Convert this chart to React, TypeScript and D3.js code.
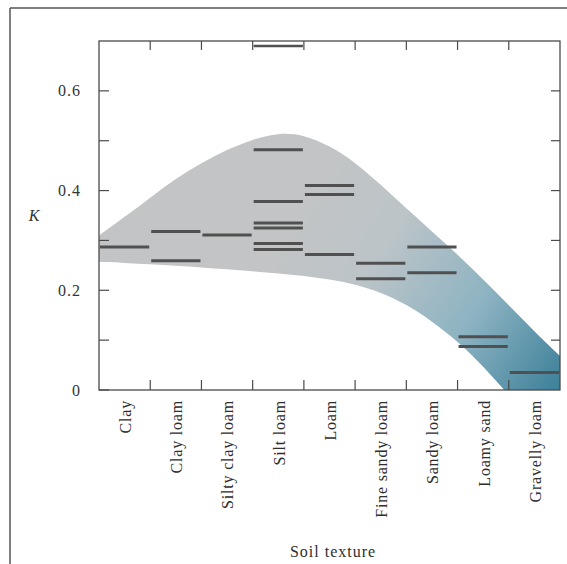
import React from "react";
import { scaleBand, scaleLinear, area, curveBasis, range } from "d3";

const soilTypes = [
  "Clay",
  "Clay loam",
  "Silty clay loam",
  "Silt loam",
  "Loam",
  "Fine sandy loam",
  "Sandy loam",
  "Loamy sand",
  "Gravelly loam",
];

// measured K values, one list per soil texture
const kValues = [
  [0.287],
  [0.318, 0.259],
  [0.311],
  [0.69, 0.482, 0.378, 0.335, 0.325, 0.294, 0.282],
  [0.41, 0.392, 0.272],
  [0.254, 0.223],
  [0.287, 0.235],
  [0.107, 0.087],
  [0.035],
];

// shaded envelope, position in texture units (0 = left edge of Clay)
// lower edge runs on below the axis and is clipped by the plot frame
const envPos = [0, 0.5, 1, 1.5, 2, 2.5, 3, 3.5, 4, 4.5, 5, 5.5, 6, 6.5, 7, 7.5, 8, 8.5, 9];
const envUpper = [0.31, 0.347, 0.386, 0.424, 0.456, 0.482, 0.503, 0.516, 0.512, 0.49, 0.457, 0.412, 0.364, 0.318, 0.272, 0.222, 0.17, 0.117, 0.068];
const envLower = [0.257, 0.255, 0.252, 0.249, 0.246, 0.242, 0.238, 0.234, 0.229, 0.222, 0.212, 0.196, 0.172, 0.138, 0.098, 0.048, -0.01, -0.07, -0.13];

const yTicks = [0, 0.1, 0.2, 0.3, 0.4, 0.5, 0.6];
const yLabels = [0, 0.2, 0.4, 0.6];

const serif = "'Liberation Serif', 'DejaVu Serif', serif";
const ink = "#4a4a4a";

const Chart = () => {
  const left = 99;
  const right = 560;
  const top = 41;
  const bottom = 390;

  const x = scaleBand().domain(soilTypes).range([left, right]);
  const xPos = scaleLinear().domain([0, soilTypes.length]).range([left, right]);
  const y = scaleLinear().domain([0, 0.7]).range([bottom, top]);

  const env = envPos.map((p, i) => ({ p, hi: envUpper[i], lo: envLower[i] }));
  const band = area<{ p: number; hi: number; lo: number }>()
    .x((d) => xPos(d.p))
    .y0((d) => y(d.lo))
    .y1((d) => y(d.hi))
    .curve(curveBasis);

  const bars = soilTypes.flatMap((s, i) =>
    kValues[i].map((k, j) => (
      <line
        key={s + j}
        x1={(x(s) as number) + 1}
        x2={(x(s) as number) + x.bandwidth() - 1}
        y1={y(k)}
        y2={y(k)}
        stroke="#505050"
        strokeWidth={k > 0.65 ? 2.5 : 3}
      />
    ))
  );

  const inner = range(1, soilTypes.length).map((i) => xPos(i));

  return (
    <svg
      width={567}
      height={564}
      style={{ position: "absolute", left: 0, top: 0, background: "#fff" }}
    >
      <defs>
        <linearGradient id="bandFill" gradientUnits="userSpaceOnUse" x1={290} y1={210} x2={560} y2={390}>
          <stop offset="0" stopColor="#c3c4c5" />
          <stop offset="0.3" stopColor="#bcc4c8" />
          <stop offset="0.65" stopColor="#8db3c2" />
          <stop offset="1" stopColor="#3c8099" />
        </linearGradient>
        <clipPath id="plotClip">
          <rect x={left} y={top} width={right - left} height={bottom - top} />
        </clipPath>
      </defs>

      {/* page frame */}
      <line x1={10} x2={10} y1={8} y2={564} stroke="#555" strokeWidth={1.5} />
      <line x1={10} x2={567} y1={8} y2={8} stroke="#555" strokeWidth={1.5} />

      <path d={band(env) ?? ""} fill="url(#bandFill)" clipPath="url(#plotClip)" />

      {bars}

      <rect x={left} y={top} width={right - left} height={bottom - top} fill="none" stroke={ink} strokeWidth={1.3} />

      {yTicks.map((t) => (
        <g key={t}>
          <line x1={left} x2={left + 10} y1={y(t)} y2={y(t)} stroke={ink} strokeWidth={1.2} />
          {t > 0 && <line x1={right - 9} x2={right} y1={y(t)} y2={y(t)} stroke={ink} strokeWidth={1.2} />}
        </g>
      ))}
      {inner.map((px, i) => (
        <g key={i}>
          <line x1={px} x2={px} y1={bottom} y2={bottom - 10} stroke={ink} strokeWidth={1.2} />
          <line x1={px} x2={px} y1={top} y2={top + 9} stroke={ink} strokeWidth={1.2} />
        </g>
      ))}

      {yLabels.map((t) => (
        <text
          key={t}
          x={81}
          y={y(t)}
          dy="0.35em"
          textAnchor="end"
          fontFamily={serif}
          fontSize={16}
          letterSpacing={1}
          fill="#333"
        >
          {t === 0 ? "0" : t.toFixed(1)}
        </text>
      ))}
      <text x={34} y={215} dy="0.35em" textAnchor="middle" fontFamily={serif} fontStyle="italic" fontSize={16} fill="#333">
        K
      </text>

      {soilTypes.map((s) => (
        <text
          key={s}
          transform={`translate(${(x(s) as number) + x.bandwidth() / 2},400) rotate(-90)`}
          dy="0.4em"
          textAnchor="end"
          fontFamily={serif}
          fontSize={16}
          letterSpacing={0.8}
          fill="#2e2e2e"
        >
          {s}
        </text>
      ))}
      <text x={333} y={557} textAnchor="middle" fontFamily={serif} fontSize={16} letterSpacing={1} fill="#2e2e2e">
        Soil texture
      </text>
    </svg>
  );
};

export default function App() {
  return <Chart />;
}
